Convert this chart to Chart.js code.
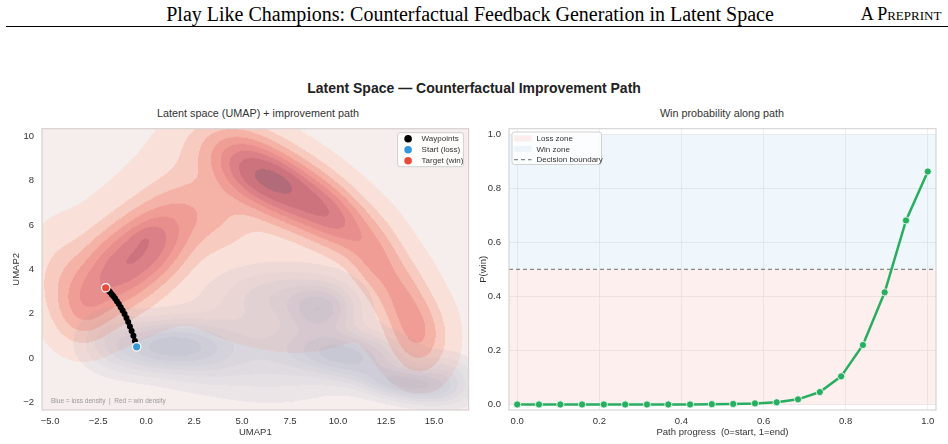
<!DOCTYPE html>
<html><head><meta charset="utf-8">
<script src="https://cdn.jsdelivr.net/npm/chart.js@4/dist/chart.umd.min.js"></script>
<style>
html,body{margin:0;padding:0;background:#fff;}
#page{position:relative;width:948px;height:444px;overflow:hidden;background:#fff;}
.t{position:absolute;white-space:nowrap;transform:translate(-50%,-50%);line-height:1;}
canvas{position:absolute;}
</style></head>
<body><div id="page">
<div class="t" style="left:470px;top:14px;font-family:'Liberation Serif','Times New Roman',serif;font-size:20px;color:#000;">Play Like Champions: Counterfactual Feedback Generation in Latent Space</div>
<div class="t" style="left:901px;top:14px;font-family:'Liberation Serif','Times New Roman',serif;font-size:18px;font-variant:small-caps;color:#000;">A Preprint</div>
<div style="position:absolute;left:6px;top:26px;width:942px;height:1.3px;background:#000;"></div>
<div class="t" style="left:474px;top:88px;font-family:'Liberation Sans',Arial,sans-serif;font-size:14px;font-weight:bold;color:#222;">Latent Space — Counterfactual Improvement Path</div>
<div class="t" style="left:258px;top:113px;font-family:'Liberation Sans',Arial,sans-serif;font-size:10.8px;color:#333;">Latent space (UMAP) + improvement path</div>
<div class="t" style="left:722px;top:113px;font-family:'Liberation Sans',Arial,sans-serif;font-size:10.8px;color:#333;">Win probability along path</div>
<canvas id="left" width="474" height="329" style="left:0;top:115px;width:474px;height:329px;"></canvas>
<canvas id="right" width="474" height="329" style="left:474px;top:115px;width:474px;height:329px;"></canvas>
</div>
<script>
// ---------------- DATA ----------------
// Improvement path (UMAP coordinates)
const pathX = [-0.50,-0.58,-0.66,-0.75,-0.84,-0.93,-1.02,-1.12,-1.22,-1.32,-1.42,-1.52,-1.61,-1.70,-1.78,-1.86,-1.93,-1.99,-2.05,-2.10];
const pathY = [ 0.50, 0.76, 1.00, 1.22, 1.42, 1.62, 1.80, 1.98, 2.14, 2.29, 2.43, 2.56, 2.68, 2.78, 2.87, 2.95, 3.02, 3.07, 3.11, 3.15];
const startPoint = {x:-0.49, y:0.50};
const targetPoint = {x:-2.10, y:3.17};
// Density shapes (estimated): [centreX, centreY, spreadAlong, spreadAcross, angleDeg, weight]
const winDensity = [
  [5.4, 8.55, 1.40, 0.90, -27, 0.62],
  [7.4, 7.55, 1.50, 0.90, -27, 0.70],
  [9.7, 6.40, 1.45, 0.80, -32, 0.55],
  [6.6, 8.05, 0.80, 0.40, -15, 0.22],
  [12.0, 4.4, 1.20, 0.80, -55, 0.30],
  [13.4, 2.5, 1.10, 0.80, -70, 0.26],
  [14.2, 1.0, 1.00, 0.85, -80, 0.26],
  [-1.6, 3.9, 1.40, 1.10, 35, 0.55],
  [0.4, 5.2, 1.40, 1.05, 35, 0.55],
  [-0.05, 5.5, 0.50, 0.30, 20, 0.08],
  [-3.2, 2.3, 1.00, 0.90, 60, 0.25],
  [-4.3, 3.6, 1.00, 1.20, 0, 0.10],
  [3.0, 6.7, 1.60, 1.10, -10, 0.20],
  [3.3, 9.3, 1.40, 1.00, 0, 0.08],
  [5.5, 4.0, 9.00, 4.50, -15, 0.025]
];
const lossDensity = [
  [0.8, 0.55, 1.70, 0.70, 3, 0.75],
  [-1.8, 0.9, 1.00, 0.75, 0, 0.22],
  [3.0, 0.3, 1.50, 0.80, 0, 0.35],
  [9.1, 2.2, 1.10, 0.70, 0, 0.60],
  [7.0, 2.8, 2.00, 0.80, 0, 0.30],
  [10.4, 0.15, 1.80, 0.65, -5, 0.80],
  [13.5, -1.15, 1.50, 0.45, -8, 0.80],
  [15.5, -0.9, 1.00, 0.60, 0, 0.35],
  [6.5, 0.3, 2.50, 1.20, 0, 0.30]
];
const leftXTicks = [-5, -2.5, 0, 2.5, 5, 7.5, 10, 12.5, 15];
const leftYTicks = [-2, 0, 2, 4, 6, 8, 10];
// Win probability along the path
const progress = [0.000,0.053,0.105,0.158,0.211,0.263,0.316,0.368,0.421,0.474,0.526,0.579,0.632,0.684,0.737,0.789,0.842,0.895,0.947,1.000];
const pWin     = [0.000,0.000,0.000,0.000,0.000,0.000,0.000,0.000,0.000,0.001,0.002,0.004,0.008,0.019,0.046,0.104,0.220,0.415,0.681,0.862];
const decisionBoundary = 0.5;
const rightXTicks = [0, 0.2, 0.4, 0.6, 0.8, 1.0];
const rightYTicks = [0, 0.2, 0.4, 0.6, 0.8, 1.0];

// ---------------- helpers ----------------
const FONT = "'Liberation Sans', Arial, sans-serif";
const fmt = v => (v < 0 ? '\u2212' : '') + Math.abs(v).toFixed(1);
const fmtInt = v => (v < 0 ? '\u2212' : '') + Math.abs(v).toFixed(0);
function prep(comps){
  return comps.map(c => { const t = c[4]*Math.PI/180; return {cx:c[0],cy:c[1],a:1/(c[2]*c[2]),b:1/(c[3]*c[3]),c:Math.cos(t),s:Math.sin(t),w:c[5]}; });
}
function dens(P, x, y){
  let s = 0;
  for (const p of P){ const dx=x-p.cx, dy=y-p.cy; const u=dx*p.c+dy*p.s, v=-dx*p.s+dy*p.c; s += p.w*Math.exp(-0.5*(u*u*p.a+v*v*p.b)); }
  return s;
}
const hex = h => [parseInt(h.slice(1,3),16),parseInt(h.slice(3,5),16),parseInt(h.slice(5,7),16)];
const redLevels = [0.015, 0.07, 0.15, 0.25, 0.36, 0.48, 0.62, 0.85];
const redColors = ['#f6eeec','#f9e1da','#f7cbbf','#f4b3a6','#f09e95','#e88e8d','#dc8087','#cd737e','#b26b78'].map(hex);
const blueLevels = [0.05, 0.14, 0.25, 0.38, 0.52, 0.68, 0.85];
const blueAlpha = [0, 0.09, 0.14, 0.19, 0.24, 0.29, 0.34, 0.39];
const blueRGB = [128,140,176];

const densityPlugin = {
  id:'density',
  beforeDatasetsDraw(chart){
    const a = chart.chartArea, xs = chart.scales.x, ys = chart.scales.y;
    const W = Math.round(a.right-a.left), H = Math.round(a.bottom-a.top);
    const off = document.createElement('canvas'); off.width=W; off.height=H;
    const octx = off.getContext('2d'); const img = octx.createImageData(W,H);
    const RP = prep(winDensity), BP = prep(lossDensity);
    const R = new Float32Array(W*H), B = new Float32Array(W*H);
    let rm=0, bm=0;
    for (let j=0;j<H;j++){ const yv = ys.getValueForPixel(a.top+j+0.5);
      for (let i=0;i<W;i++){ const xv = xs.getValueForPixel(a.left+i+0.5);
        const r = dens(RP,xv,yv), b = dens(BP,xv,yv); R[j*W+i]=r; B[j*W+i]=b; if(r>rm)rm=r; if(b>bm)bm=b; } }
    for (let k=0;k<W*H;k++){
      const r=R[k]/rm, b=B[k]/bm;
      let rl=0; while(rl<redLevels.length && r>=redLevels[rl]) rl++;
      let bl=0; while(bl<blueLevels.length && b>=blueLevels[bl]) bl++;
      const base = redColors[rl], al = blueAlpha[bl];
      img.data[k*4]   = base[0]*(1-al)+blueRGB[0]*al;
      img.data[k*4+1] = base[1]*(1-al)+blueRGB[1]*al;
      img.data[k*4+2] = base[2]*(1-al)+blueRGB[2]*al;
      img.data[k*4+3] = 255;
    }
    octx.putImageData(img,0,0);
    chart.ctx.drawImage(off, a.left, a.top);
  }
};
const framePlugin = {
  id:'frame',
  afterDraw(chart, args, opts){
    const a = chart.chartArea, ctx = chart.ctx;
    ctx.save(); ctx.strokeStyle = opts.color || '#d0d0d0'; ctx.lineWidth = 1.2;
    ctx.strokeRect(a.left, a.top, a.right-a.left, a.bottom-a.top); ctx.restore();
  }
};
function roundRect(ctx,x,y,w,h,r){ctx.beginPath();ctx.moveTo(x+r,y);ctx.lineTo(x+w-r,y);ctx.quadraticCurveTo(x+w,y,x+w,y+r);ctx.lineTo(x+w,y+h-r);ctx.quadraticCurveTo(x+w,y+h,x+w-r,y+h);ctx.lineTo(x+r,y+h);ctx.quadraticCurveTo(x,y+h,x,y+h-r);ctx.lineTo(x,y+r);ctx.quadraticCurveTo(x,y,x+r,y);ctx.closePath();}
const leftLegend = {
  id:'leftLegend',
  afterDraw(chart){
    const a = chart.chartArea, ctx = chart.ctx, ds = chart.data.datasets;
    const bx = a.right-71, by = a.top+4, bw = 66, bh = 34;
    ctx.save();
    roundRect(ctx,bx,by,bw,bh,2.5); ctx.fillStyle='rgba(255,255,255,0.85)'; ctx.fill(); ctx.strokeStyle='#d0d0d0'; ctx.lineWidth=1; ctx.stroke();
    const items = [[ds[2].label, ds[2].pointBackgroundColor],[ds[1].label, ds[1].backgroundColor],[ds[0].label, ds[0].backgroundColor]];
    ctx.font = '8px '+FONT; ctx.textBaseline='middle'; ctx.textAlign='left';
    items.forEach((it,i)=>{ const y = by+6+i*11;
      ctx.beginPath(); ctx.arc(bx+10.5,y,3.8,0,Math.PI*2); ctx.fillStyle=it[1]; ctx.fill();
      ctx.fillStyle='#333'; ctx.fillText(it[0], bx+24, y+0.5); });
    ctx.font = '6.5px '+FONT; ctx.fillStyle='#999'; ctx.textBaseline='middle';
    ctx.fillText('Blue = loss density  |  Red = win density', a.left+9, a.bottom-9);
    ctx.restore();
  }
};
const rightLegend = {
  id:'rightLegend',
  afterDraw(chart){
    const a = chart.chartArea, ctx = chart.ctx, ds = chart.data.datasets;
    const bx = a.left+3, by = a.top+3.3, bw = 89.5, bh = 32.5;
    ctx.save();
    roundRect(ctx,bx,by,bw,bh,2.5); ctx.fillStyle='rgba(255,255,255,0.85)'; ctx.fill(); ctx.strokeStyle='#d0d0d0'; ctx.lineWidth=1; ctx.stroke();
    ctx.font = '8px '+FONT; ctx.textBaseline='middle'; ctx.textAlign='left';
    const loss = ds[3], win = ds[2], db = ds[1];
    let y = by+6.4;
    ctx.fillStyle = loss.backgroundColor; ctx.fillRect(bx+2, y-3, 17.5, 6);
    ctx.fillStyle='#333'; ctx.fillText(loss.label, bx+24.5, y+0.5);
    y += 10.6;
    ctx.fillStyle = win.backgroundColor; ctx.fillRect(bx+2, y-3, 17.5, 6);
    ctx.fillStyle='#333'; ctx.fillText(win.label, bx+24.5, y+0.5);
    y += 10.6;
    ctx.strokeStyle = db.borderColor; ctx.lineWidth = 1.2; ctx.setLineDash(db.borderDash);
    ctx.beginPath(); ctx.moveTo(bx+2,y); ctx.lineTo(bx+19.5,y); ctx.stroke(); ctx.setLineDash([]);
    ctx.fillStyle='#333'; ctx.fillText(db.label, bx+24.5, y+0.5);
    ctx.restore();
  }
};
const tickFont = {family: FONT, size: 9.5};
const titleFont = {family: FONT, size: 9.5};

// ---------------- LEFT CHART ----------------
new Chart(document.getElementById('left'), {
  type:'scatter',
  data:{ datasets:[
    {label:'Target (win)', data:[targetPoint], backgroundColor:'#e74c3c', borderColor:'#ffffff', borderWidth:1.2, pointRadius:4.2, order:1},
    {label:'Start (loss)', data:[startPoint], backgroundColor:'#3498db', borderColor:'#ffffff', borderWidth:1.2, pointRadius:4.2, order:2},
    {label:'Waypoints', data: pathX.map((x,i)=>({x, y:pathY[i]})), showLine:true, borderColor:'#000', borderWidth:2.6,
      pointBackgroundColor:'#000', pointBorderColor:'#000', pointBorderWidth:0, pointRadius:3, order:3}
  ]},
  options:{
    responsive:false, animation:false, devicePixelRatio:1,
    layout:{padding:{left:0,right:5,top:6,bottom:0}},
    plugins:{legend:{display:false}, tooltip:{enabled:false}, frame:{color:'#d8d0d0'}},
    scales:{
      x:{type:'linear', min:-5.42, max:16.8,
        afterBuildTicks: s => { s.ticks = leftXTicks.map(v=>({value:v})); },
        afterFit: s => { s.height = 34; },
        grid:{display:false, drawTicks:false}, border:{display:false},
        ticks:{padding:5.4, font:tickFont, color:'#333', callback: v => fmt(v), maxRotation:0, autoSkip:false},
        title:{display:true, text:'UMAP1', font:titleFont, color:'#333', padding:{top:0,bottom:5.6}}},
      y:{type:'linear', min:-2.35, max:10.35,
        afterBuildTicks: s => { s.ticks = leftYTicks.map(v=>({value:v})); },
        afterFit: s => { s.width = 42; },
        grid:{display:false, drawTicks:false}, border:{display:false},
        ticks:{padding:8, font:tickFont, color:'#333', callback: v => fmtInt(v), autoSkip:false},
        title:{display:true, text:'UMAP2', font:titleFont, color:'#333', padding:{top:11,bottom:0}}}
    }
  },
  plugins:[densityPlugin, framePlugin, leftLegend]
});

// ---------------- RIGHT CHART ----------------
new Chart(document.getElementById('right'), {
  type:'line',
  data:{ datasets:[
    {label:'P(win)', data: progress.map((x,i)=>({x, y:pWin[i]})), borderColor:'#27ae60', backgroundColor:'#27ae60', borderWidth:2.5,
      pointBackgroundColor:'#27ae60', pointBorderColor:'#ffffff', pointBorderWidth:0.8, pointRadius:3.6, fill:false, order:0},
    {label:'Decision boundary', data:[{x:-0.02,y:decisionBoundary},{x:1.02,y:decisionBoundary}], borderColor:'#888888', borderWidth:1.2, borderDash:[4,3], pointRadius:0, fill:false, order:1},
    {label:'Win zone', data:[{x:-0.02,y:1},{x:1.02,y:1}], borderWidth:0, borderColor:'rgba(0,0,0,0)', backgroundColor:'rgba(52,152,219,0.08)', pointRadius:0, fill:{value:decisionBoundary}, order:2},
    {label:'Loss zone', data:[{x:-0.02,y:decisionBoundary},{x:1.02,y:decisionBoundary}], borderWidth:0, borderColor:'rgba(0,0,0,0)', backgroundColor:'rgba(231,76,60,0.09)', pointRadius:0, fill:{value:0}, order:3}
  ]},
  options:{
    responsive:false, animation:false, devicePixelRatio:1,
    layout:{padding:{left:0,right:12,top:6,bottom:0}},
    plugins:{legend:{display:false}, tooltip:{enabled:false}, frame:{color:'#d5d5d5'}},
    scales:{
      x:{type:'linear', min:-0.02, max:1.02,
        afterBuildTicks: s => { s.ticks = rightXTicks.map(v=>({value:v})); },
        afterFit: s => { s.height = 34; },
        grid:{display:true, drawTicks:false, color:'#ebebeb', lineWidth:0.8}, border:{display:false},
        ticks:{padding:5.4, font:tickFont, color:'#333', callback: v => fmt(v), maxRotation:0, autoSkip:false},
        title:{display:true, text:'Path progress  (0=start, 1=end)', font:titleFont, color:'#333', padding:{top:0,bottom:5.6}}},
      y:{type:'linear', min:-0.0205, max:1.0205,
        afterBuildTicks: s => { s.ticks = rightYTicks.map(v=>({value:v})); },
        afterFit: s => { s.width = 35; },
        grid:{display:true, drawTicks:false, color:'#ebebeb', lineWidth:0.8}, border:{display:false},
        ticks:{padding:8, font:tickFont, color:'#333', callback: v => fmt(v), autoSkip:false},
        title:{display:true, text:'P(win)', font:titleFont, color:'#333', padding:{top:3.3,bottom:0}}}
    }
  },
  plugins:[framePlugin, rightLegend]
});
</script>
</body></html>
